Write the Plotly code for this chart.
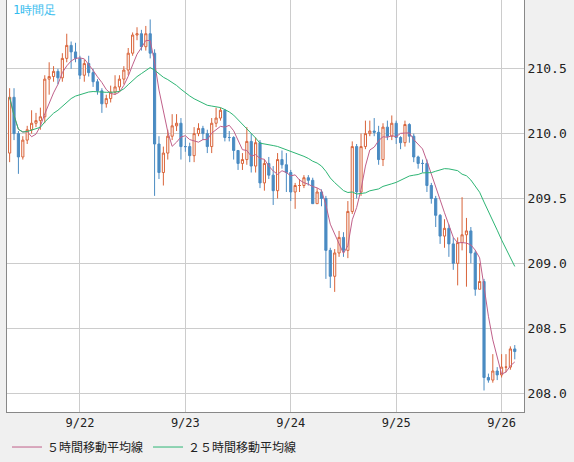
import pandas as pd
import plotly.graph_objects as go

# hourly candles, 9/21 08:00 .. 9/26 03:00
first_open = 209.85
closes = [210.28, 210.00, 209.82, 209.95, 210.03, 210.08, 210.10, 210.13, 210.42, 210.44,
          210.48, 210.43, 210.58, 210.68, 210.63, 210.58, 210.45, 210.54, 210.47, 210.40,
          210.33, 210.23, 210.27, 210.32, 210.36, 210.42, 210.49, 210.62, 210.76, 210.77,
          210.67, 210.77, 210.62, 209.92, 209.70, 209.85, 209.98, 210.06, 210.08, 209.90,
          209.90, 209.83, 210.00, 210.04, 210.00, 209.90, 210.08, 210.12, 210.18, 209.97,
          209.97, 209.87, 209.77, 209.80, 209.94, 209.75, 209.93, 209.62, 209.77, 209.68,
          209.56, 209.80, 209.76, 209.70, 209.55, 209.60, 209.60, 209.66, 209.64, 209.46,
          209.55, 209.50, 209.10, 208.90, 209.08, 209.20, 209.10, 209.40, 209.90, 209.55,
          209.90, 210.00, 210.02, 210.01, 209.80, 210.05, 209.98, 210.08, 209.97, 209.93,
          210.07, 209.98, 209.82, 209.77, 209.77, 209.60, 209.50, 209.37, 209.21, 209.27,
          209.15, 209.00, 209.16, 209.22, 209.25, 209.08, 208.80, 208.86, 208.12, 208.10,
          208.17, 208.14, 208.20, 208.20, 208.34, 208.32]
highs = [210.35, 210.35, 210.02, 209.98, 210.06, 210.18, 210.16, 210.20, 210.45, 210.55,
         210.52, 210.50, 210.62, 210.77, 210.71, 210.70, 210.60, 210.57, 210.60, 210.50,
         210.42, 210.35, 210.30, 210.37, 210.45, 210.45, 210.52, 210.66, 210.78, 210.82,
         210.80, 210.83, 210.88, 210.65, 209.98, 209.90, 210.03, 210.15, 210.15, 210.12,
         209.97, 209.93, 210.05, 210.08, 210.06, 210.03, 210.12, 210.20, 210.20, 210.19,
         210.02, 209.98, 209.87, 209.85, 210.05, 210.00, 209.97, 209.95, 209.80, 209.82,
         209.75, 209.85, 209.87, 209.85, 209.72, 209.62, 209.65, 209.68, 209.68, 209.66,
         209.58, 209.57, 209.52, 209.12, 209.11, 209.25, 209.24, 209.48, 209.94, 209.92,
         210.00, 210.10, 210.10, 210.12, 210.06, 210.08, 210.10, 210.14, 210.10, 209.98,
         210.10, 210.08, 210.00, 209.83, 209.80, 209.80, 209.62, 209.52, 209.38, 209.34,
         209.30, 209.20, 209.20, 209.51, 209.35, 209.28, 209.10, 209.00, 208.88, 208.15,
         208.30, 208.20, 208.30, 208.30, 208.36, 208.37]
lows = [209.78, 209.95, 209.69, 209.80, 209.92, 210.00, 210.05, 210.03, 210.08, 210.30,
        210.40, 210.38, 210.40, 210.55, 210.50, 210.55, 210.42, 210.40, 210.44, 210.36,
        210.30, 210.16, 210.20, 210.24, 210.30, 210.33, 210.38, 210.45, 210.60, 210.72,
        210.64, 210.64, 210.58, 209.52, 209.65, 209.60, 209.80, 209.95, 210.02, 209.80,
        209.86, 209.78, 209.78, 209.98, 209.95, 209.85, 209.85, 210.05, 210.10, 209.94,
        209.94, 209.80, 209.72, 209.72, 209.76, 209.70, 209.70, 209.58, 209.56, 209.65,
        209.45, 209.50, 209.73, 209.55, 209.48, 209.42, 209.55, 209.58, 209.60, 209.46,
        209.46, 209.44, 208.88, 208.81, 208.78, 209.05, 209.05, 209.04, 209.38, 209.50,
        209.52, 209.88, 209.98, 209.98, 209.76, 209.75, 209.95, 209.95, 209.92, 209.88,
        209.90, 209.93, 209.78, 209.73, 209.70, 209.55, 209.46, 209.28, 209.15, 209.12,
        209.05, 208.95, 208.83, 209.10, 208.82, 209.00, 208.75, 208.80, 208.02, 208.08,
        208.08, 208.10, 208.12, 208.16, 208.18, 208.26]

date_ticks = ['2015-09-22', '2015-09-23', '2015-09-24', '2015-09-25', '2015-09-26']
date_labels = ['9/22', '9/23', '9/24', '9/25', '9/26']
price_ticks = [208.0, 208.5, 209.0, 209.5, 210.0, 210.5]
price_labels = ['208.0', '208.5', '209.0', '209.5', '210.0', '210.5']

times = pd.date_range('2015-09-21 08:00', periods=len(closes), freq='h')
opens = [first_open] + closes[:-1]
s = pd.Series(closes)
ma5 = s.rolling(5, min_periods=1).mean()
ma25 = s.rolling(25, min_periods=1).mean()

fig = go.Figure()
fig.add_trace(go.Candlestick(
    x=times, open=opens, high=highs, low=lows, close=closes,
    increasing=dict(line=dict(color='#d9643a', width=1), fillcolor='white'),
    decreasing=dict(line=dict(color='#4a8bc2', width=1), fillcolor='#4a8bc2'),
    whiskerwidth=0, showlegend=False, hoverinfo='skip'
))
fig.add_trace(go.Scatter(x=times, y=ma5, mode='lines', name='５時間移動平均線',
                         line=dict(color='#c0608a', width=1)))
fig.add_trace(go.Scatter(x=times, y=ma25, mode='lines', name='２５時間移動平均線',
                         line=dict(color='#2db574', width=1)))

fig.add_annotation(text='1時間足', xref='paper', yref='paper', x=0.008, y=0.997,
                   xanchor='left', yanchor='top', showarrow=False,
                   font=dict(color='#33bbee', size=12))

fig.update_layout(
    width=574, height=462,
    margin=dict(l=7, r=50, t=0, b=50),
    paper_bgcolor='#f0f0f0', plot_bgcolor='white',
    font=dict(family='DejaVu Sans Mono', size=12, color='#222'),
    legend=dict(orientation='h', x=0.0, y=-0.085, xanchor='left', yanchor='middle',
                font=dict(family='DejaVu Sans Mono, Noto Sans CJK JP', size=12),
                bgcolor='rgba(0,0,0,0)'),
    xaxis=dict(type='date', range=['2015-09-21 07:24', '2015-09-26 05:06'],
               tickvals=date_ticks, ticktext=date_labels, rangeslider=dict(visible=False),
               showgrid=True, gridcolor='#cccccc', showline=True, linecolor='#888888',
               mirror=True, ticks='', tickfont=dict(size=12)),
    yaxis=dict(side='right', range=[207.854, 211.03], tickvals=price_ticks,
               ticktext=price_labels, showgrid=True, gridcolor='#cccccc', showline=True,
               linecolor='#888888', mirror=True, ticks='', tickfont=dict(size=13)),
)

fig.write_html('out.html', config={'displayModeBar': False},
               post_script="document.body.style.margin='0';")
